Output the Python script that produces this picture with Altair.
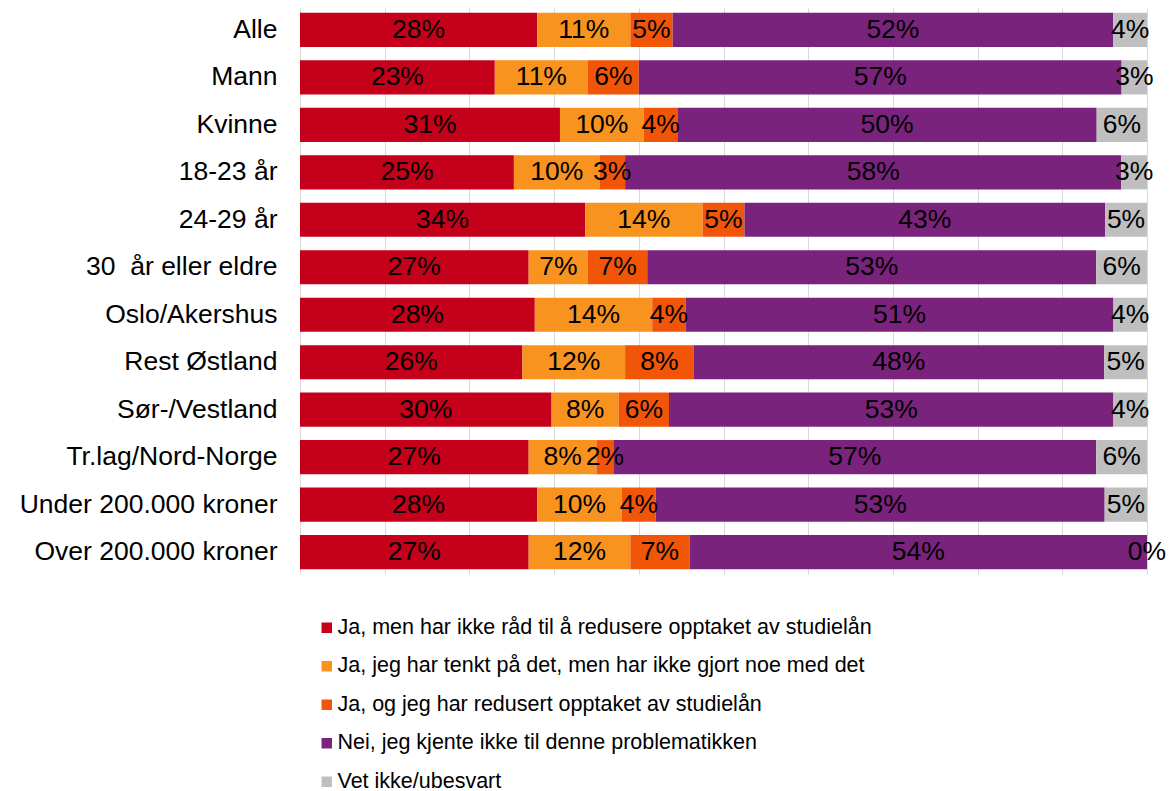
import altair as alt
import pandas as pd

groups = ["Alle", "Mann", "Kvinne", "18-23 år", "24-29 år", "30\u00a0 år eller eldre",
          "Oslo/Akershus", "Rest Østland", "Sør-/Vestland", "Tr.lag/Nord-Norge",
          "Under 200.000 kroner", "Over 200.000 kroner"]

categories = [
    "Ja, men har ikke råd til å redusere opptaket av studielån",
    "Ja, jeg har tenkt på det, men har ikke gjort noe med det",
    "Ja, og jeg har redusert opptaket av studielån",
    "Nei, jeg kjente ikke til denne problematikken",
    "Vet ikke/ubesvart",
]
colors = ["#C4001A", "#F7931E", "#F05508", "#7A237D", "#BFBFBF"]

ja_ikke_raad = [28, 23, 31, 25, 34, 27, 28, 26, 30, 27, 28, 27]
ja_tenkt = [11, 11, 10, 10, 14, 7, 14, 12, 8, 8, 10, 12]
ja_redusert = [5, 6, 4, 3, 5, 7, 4, 8, 6, 2, 4, 7]
nei = [52, 57, 50, 58, 43, 53, 51, 48, 53, 57, 53, 54]
vet_ikke = [4, 3, 6, 3, 5, 6, 4, 5, 4, 6, 5, 0]

grid_values = [0.0, 0.1, 0.2, 0.3, 0.4, 0.5, 0.6, 0.7, 0.8, 0.9, 1.0]

series = [ja_ikke_raad, ja_tenkt, ja_redusert, nei, vet_ikke]

rows = []
for ci, (cat, vals) in enumerate(zip(categories, series)):
    for g, v in zip(groups, vals):
        rows.append({"group": g, "category": cat, "order": ci, "value": v,
                     "label": f"{v}%"})
df = pd.DataFrame(rows)

base = alt.Chart(df).transform_stack(
    stack="value", groupby=["group"], as_=["x0", "x1"],
    sort=[alt.SortField("order")], offset="normalize"
).transform_calculate(mid="(datum.x0 + datum.x1) / 2")

y_enc = alt.Y("group:N", sort=groups, title=None,
              scale=alt.Scale(paddingInner=0.28, paddingOuter=0.1),
              axis=alt.Axis(domain=False, ticks=False, labelFontSize=26.5,
                            labelFont="Liberation Sans", labelColor="#000000",
                            labelPadding=23, labelLimit=400))

bars = base.mark_bar().encode(
    x=alt.X("x0:Q", scale=alt.Scale(domain=[0, 1]), title=None,
            axis=alt.Axis(labels=False, domain=False, ticks=False,
                          values=grid_values,
                          gridColor="#D9D9D9", gridWidth=1)),
    x2="x1:Q",
    y=y_enc,
    color=alt.Color("category:N", sort=categories,
                    scale=alt.Scale(domain=categories, range=colors),
                    legend=alt.Legend(title=None, orient="none", legendX=16,
                                      legendY=609, direction="vertical",
                                      symbolType="square", symbolSize=110,
                                      symbolStrokeWidth=0,
                                      labelFontSize=21.5, labelFont="Liberation Sans",
                                      labelColor="#000000", rowPadding=15.5,
                                      labelOffset=0, labelLimit=800)),
)

texts = base.mark_text(fontSize=26.5, font="Liberation Sans", color="#000000").encode(
    x=alt.X("mid:Q"),
    y=alt.Y("group:N", sort=groups),
    text="label:N",
)

chart = alt.layer(bars, texts).properties(
    width=847, height=566,
    autosize=alt.AutoSizeParams(type="none"),
    padding={"left": 292, "top": 0, "right": 20, "bottom": 225},
).configure_view(stroke=None)

chart.save("out.html", embed_options={"renderer": "svg", "actions": False})
